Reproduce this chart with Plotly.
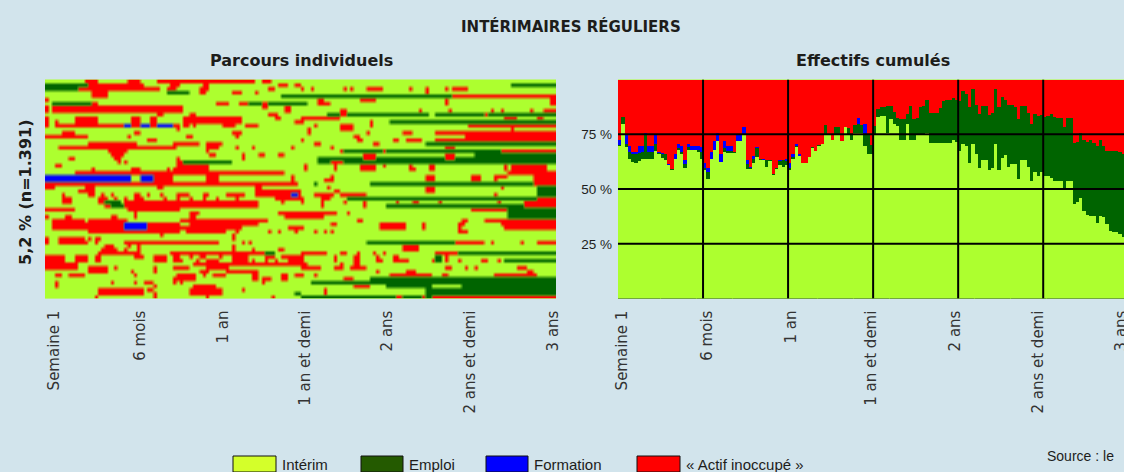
import plotly.graph_objects as go

# ---- données ------------------------------------------------------------------
tick_labels = ["Semaine 1", "6 mois", "1 an", "1 an et demi", "2 ans", "2 ans et demi", "3 ans"]
grid_weeks = [26, 52, 78, 104, 130]
grid_pct = [25, 50, 75]
states = ["Intérim", "Emploi", "Formation", "« Actif inoccupé »"]

# Parcours individuels : périodes (état + semaines début-fin) de chaque individu ; reste = intérim
parcours = [
    "R12-16 R25-29 R34-64 R66-69 F0-0",
    "E0-13 R13-30 R38-41 R48-50 R71-74 R76-78 E142-156",
    "E0-10 R10-35 R37-40 R47-50 R68-70 R78-79 R81-82 R91-92 R93-94 R98-103 R111-112 R116-117 R122-123 R124-129",
    "R14-19 E37-44 R47-49 R57-60 R64-65 R116-117",
    "R14-19 E72-124 R124-156",
    "R0-1 R83-85 R96-101 R122-123 R154-156",
    "E2-14 R14-16 R52-56 R59-62 E62-66 R66-68 E68-80 R83-87 R122-123 R154-156",
    "R0-1 R2-42 R66-68 R73-75",
    "R0-1 R2-42 R15-16 R73-75 R90-92 R114-115 R123-124 R136-137 R139-140 R148-149 R152-156",
    "R34-36 R44-46 R68-71 E86-117 E119-156 R90-92 R134-135",
    "R0-1 R9-16 R26-29 R32-34 R42-60 R70-72 R78-90 R140-144 R150-152",
    "R0-1 R3-4 R9-16 R26-29 R32-34 R42-60 R76-78 R78-79 R99-100 E105-156",
    "R0-1 R3-24 F24-39 R26-29 R32-34 R39-41 R42-44 R45-46 R54-58 R61-65 R82-83 R90-94 R99-100 R129-156",
    "R40-41 R80-81 R90-94 R142-143",
    "R5-9 R27-29 R57-60 R80-81 R98-99 R109-112 R119-128 R128-156",
    "R0-13 R5-9 R25-26 R43-45 R58-59 R94-96 R128-156",
    "R31-34 R78-79 R95-97 R106-108 R110-115 R119-132 R128-156",
    "R13-28 R39-47 R49-54 R82-84 R100-102 E116-156",
    "R4-40 R12-16 R18-26 R49-53 R58-59 R63-64 R75-76 R87-88 R122-125",
    "R19-25 R49-50 R90-92 E91-140 R139-156 R103-104",
    "R20-24 R50-52 R60-61 R65-67 R71-73 R97-101 R122-125 E131-156",
    "R7-9 R21-23 R40-41 R60-61 E83-131 R97-101 R122-125 E131-156",
    "R22-23 R24-25 R40-42 E42-57 E83-156 R87-91",
    "R3-5 R40-50 R79-80 R88-89 R96-101 R103-104 R111-112 R117-119 R140-141 R142-153",
    "R14-15 R26-29 R37-38 R39-50 R79-80 R88-89 R96-101 R111-113 R117-119 R140-141 R142-153",
    "R9-70 R39-50 R70-73 R141-156",
    "F0-26 F29-33 R33-39 R49-53 R75-76 R87-88 R116-119 R130-133 R137-138 R138-141 R149-156",
    "F0-26 F29-33 R33-39 R49-53 R75-76 R85-88 R116-119 R130-133 R137-138 R149-156",
    "R0-77 E82-83 E99-149 R149-156",
    "R0-3 R12-15 R34-36 R64-66 R86-87 R116-119 R139-140 E150-156",
    "R10-15 R64-78 R88-90 R116-119 E150-156",
    "R5-6 R13-15 R17-18 R20-21 R27-29 R31-32 R35-36 R40-44 R48-50 R55-61 R64-78 F75-77 R82-88 R90-98 R137-138 E150-156",
    "R5-8 R16-19 R21-22 R24-25 R27-30 R36-37 R40-41 R44-45 R48-49 R52-53 R58-59 R70-79 R84-87 E92-150 R150-156",
    "R5-8 R16-18 E18-23 R24-65 R72-73 R78-79 R84-85 R91-92 R97-98 R107-108 R112-114 R120-121 R138-139 R146-156",
    "R18-25 E20-24 R25-65 R84-85 R97-98 E104-146 R146-156",
    "R0-9 R25-41 R130-141 E141-156",
    "R27-28 R44-47 R71-89 R92-93 E141-156",
    "R0-1 R6-8 R20-22 R27-28 R44-46 R73-85 E141-156",
    "R2-12 R13-25 R41-68 R95-97 R127-129 R134-140 R140-156",
    "R2-24 F24-31 R31-41 R44-65 R87-89 R102-110 R115-116 R126-128 R139-156",
    "R2-24 F24-31 R31-41 R41-60 R74-79 R102-110 R115-116 R126-127 R140-156",
    "R13-41 R43-55 R58-59 R68-69 R71-72 R76-77 R82-83 R85-86 R87-88 R126-129",
    "R35-36 R57-58",
    "R0-1 R4-12 R13-14 R15-17 R57-58",
    "R0-1 R4-13 R15-16 R24-53 R60-61 R62-63 E98-125 R125-134 R136-137 R145-146 R150-156",
    "R18-21 R25-26 R28-29 R57-58 R109-114",
    "R17-22 R24-25 R28-29 R57-58 R63-64 R71-73 R109-114",
    "R16-29 R38-70 E67-70 R78-86 R90-92 R95-96 R100-101 R103-104 R119-126 E126-156",
    "R0-6 R9-13 R15-17 R27-30 R33-37 R39-41 R44-45 R47-49 R53-54 R57-62 R67-70 R72-79 R88-89 R94-96 R101-102 R106-108 E119-121 R122-123",
    "R0-6 R9-13 R15-17 R33-37 R39-42 R46-47 R49-53 R57-62 R63-64 R67-68 R70-71 R74-79 R88-89 R94-96 R101-103 R106-111 R118-119 E119-121 R122-123 R126-127 R133-135 R138-139 E140-156",
    "R0-10 R45-80 R90-91 R94-96",
    "R0-10 R13-19 R21-22 R33-34 R39-44 R49-56 R78-84 R88-91 R93-98 R122-124 R128-129 R131-132 R144-147",
    "R13-19 R26-27 R33-34 R47-50 R55-65 R101-102 R110-113 R147-149",
    "R3-5 R7-12 R27-28 R40-46 R48-49 R51-55 R63-65 R72-74 R76-79 R82-83 R105-118 R121-123 R137-150",
    "R39-46 R63-65 R66-69 R72-74 R91-94 E99-156",
    "R3-4 R20-21 R27-28 R30-33 R39-40 R41-42 R66-67 E81-99 E99-156",
    "R3-4 R33-34 R45-52 R94-99 E104-118 E127-156",
    "R16-30 R31-33 R44-54 R60-61 R85-86 E116-156",
    "R16-30 R33-34 R44-54 E76-78 R85-86 E116-156",
    "R15-16 R33-34 R49-50 R69-70 E78-119 R107-109 R115-116 R118-119 R119-156",
]

# Effectifs cumulés : hauteur cumulée de chaque état par semaine (%)
cumul_interim = [
    70, 80, 69.5, 64, 62.5, 62, 63, 64, 64, 64, 64, 67.5, 66, 64.5, 63.5, 61, 59, 64, 67.9, 66,
    60, 68, 68, 68, 67, 64, 59, 55, 64, 68, 72, 62.5, 67, 66.5, 66.5, 66.5, 72, 72, 75.5, 59.5,
    59.5, 62, 65, 63.5, 63.5, 60.5, 63, 56.5, 59.5, 61, 60.5, 61, 59, 64, 69.5, 65.5, 62, 62, 64.8, 69,
    67.5, 70, 71, 75.4, 75.4, 72.4, 74.7, 75, 72, 78.5, 74.7, 72.5, 75.9, 75.9, 76, 70, 66.3, 66.3, 74.7, 83,
    83.5, 83.5, 76, 82, 80, 79.2, 72.8, 72.8, 80, 72.8, 72.8, 75.4, 75.4, 75.4, 75.9, 71.3, 71.3, 71.3, 71.3, 71.3,
    71.3, 71.3, 72.4, 71.6, 67.8, 70.9, 70.1, 62.2, 70.9, 66.3, 59.9, 63.7, 63.7, 58.7, 59.8, 70.9, 58.7, 64.3, 65.8, 60.2,
    61.7, 61.7, 54.9, 63.7, 63.7, 60.2, 53.7, 58.2, 56.4, 58.2, 56.4, 56.4, 55.2, 54.1, 53.7, 53.7, 49.6, 53.7, 53.7, 43.5,
    44.2, 46, 40.4, 38.4, 37.8, 37.8, 34.8, 38.1, 37.4, 34.3, 31.3, 30.8, 30.5, 29.5, 28.2,
]
cumul_emploi = [
    70.5, 83, 71, 67, 66, 66, 66.5, 67, 75.5, 67, 67, 71, 66.5, 66, 66, 61, 59.5, 64, 69, 67,
    61.8, 69.5, 68, 68, 68, 67, 60, 58, 64, 68, 72, 62.5, 69, 67.5, 67.5, 67, 72, 72, 75.5, 61.5,
    60, 64, 69, 64, 63.5, 63.5, 63.5, 57, 60, 63, 63.5, 63, 60, 65, 70, 65.5, 62, 62, 64.8, 69.3,
    67.8, 70.4, 71, 79.5, 75.4, 72.4, 78.5, 78.5, 72, 78.5, 78, 75, 79.5, 80, 79.5, 74.7, 74.7, 70.4, 79.2, 86.8,
    87.6, 87.6, 88, 88, 85.3, 82.6, 82.3, 82.3, 84.6, 88, 82.3, 82.6, 87.6, 88, 91, 85, 85, 85, 87, 90.6,
    91, 91, 92, 91, 90.6, 95.2, 93.7, 87.6, 95.7, 88.4, 84.6, 88, 88, 83.8, 85, 95.7, 87.6, 92.2, 91.1, 88.4,
    88.7, 87.6, 82.3, 88, 88, 85, 80, 84.6, 83.5, 83.8, 83, 83.5, 84.6, 83, 82.6, 82.6, 78.5, 82.6, 82.6, 71.3,
    71.9, 75.9, 72.4, 71.6, 72.4, 71.3, 69.8, 72.4, 70.1, 67.4, 67.4, 67.4, 67.4, 67, 66.3,
]
cumul_formation = [
    72.4, 83, 74.7, 69.7, 67.1, 67.1, 69.7, 69.7, 75.8, 69.7, 69.7, 74.7, 67.1, 66.8, 66.4, 61.8, 59.5, 66.4, 70.9, 70,
    63.6, 71, 70, 70, 70, 69.5, 62, 60, 67, 72, 75.8, 66.4, 72, 70, 70, 67, 74.7, 74.7, 78.5, 63.5,
    60.5, 65.5, 69.5, 64, 64, 63.5, 63.5, 57, 60, 63.5, 63.5, 64, 62, 66, 71, 66, 62, 62, 64.8, 69.3,
    67.8, 70.4, 71, 79.5, 75.4, 72.4, 78.5, 78.5, 72, 78.5, 78, 75, 79.5, 82.6, 79.5, 80, 74.7, 70.4, 79.2, 86.8,
    87.6, 87.6, 88, 88, 85.3, 82.6, 82.3, 82.3, 84.6, 88, 82.3, 82.6, 87.6, 88, 91, 85, 85, 85, 87, 90.6,
    91, 91, 92, 91, 90.6, 95.2, 93.7, 87.6, 95.7, 88.4, 84.6, 88, 88, 83.8, 85, 95.7, 87.6, 92.2, 91.1, 88.4,
    88.7, 87.6, 82.3, 88, 88, 85, 80, 84.6, 83.5, 83.8, 83, 83.5, 84.6, 83, 82.6, 82.6, 78.5, 82.6, 82.6, 71.3,
    71.9, 75.9, 72.4, 71.6, 72.4, 71.3, 69.8, 72.4, 70.1, 67.4, 67.4, 67.4, 67.4, 67, 66.3,
]
cumul_inoccupe = [100] * len(cumul_interim)

# ---- styles ------------------------------------------------------------------
W, H = 1124, 472
BG = "#d2e4ec"
INK = "#1d1d1b"
SANS = "Liberation Sans, Arial, sans-serif"
WIDE = "DejaVu Sans, sans-serif"
C_INT, C_EMP, C_FOR, C_INA = "#adff2f", "#006400", "#0000ff", "#ff0000"
LEG_COLORS = ["#d4ff2a", "#245a00", "#0000ff", "#ff0000"]

def px(x): return x / W
def py(y): return 1 - y / H

# ---- matrice des parcours ----------------------------------------------------
codes = []
for row in parcours:
    line = ["I"] * 156
    for item in row.split():
        a, b = item[1:].split("-")
        for w in range(int(a), int(b)):
            line[w] = item[0]
    codes.append(line)

fig = go.Figure()
# une couche lissée par état (fond = intérim) : reproduit le flou de l'image d'origine
for code, col_rgb in [("R", "255,0,0"), ("E", "0,100,0"), ("F", "0,0,255")]:
    fig.add_trace(go.Heatmap(
        z=[[1 if c == code else 0 for c in line] for line in codes],
        x=list(range(156)), y=list(range(len(codes))), xaxis="x", yaxis="y",
        zmin=0, zmax=1, showscale=False, hoverinfo="skip", zsmooth="best",
        colorscale=[[0, f"rgba({col_rgb},0)"], [1, f"rgba({col_rgb},1)"]],
    ))

weeks = list(range(len(cumul_interim)))
for name, vals, col in [
    (states[3], cumul_inoccupe, C_INA),
    (states[2], cumul_formation, C_FOR),
    (states[1], cumul_emploi, C_EMP),
    (states[0], cumul_interim, C_INT),
]:
    fig.add_trace(go.Bar(x=[w + 0.5 for w in weeks], y=vals, name=name, width=1.02, xaxis="x2", yaxis="y2",
                         marker=dict(color=col, line=dict(width=0)), showlegend=False))

shapes = []
for w in grid_weeks:
    shapes.append(dict(type="line", xref="x2", yref="y2", x0=w, x1=w, y0=0, y1=100,
                       line=dict(color="black", width=2), layer="above"))
for p in grid_pct:
    shapes.append(dict(type="line", xref="x2", yref="y2", x0=0, x1=160, y0=p, y1=p,
                       line=dict(color="black", width=2), layer="above"))

# légende dessinée
annots = []
leg_x = [(233, 276), (361, 403), (486, 528), (637, 680)]
for (x0, x1), col, lab in zip(leg_x, LEG_COLORS, states):
    shapes.append(dict(type="rect", xref="paper", yref="paper", x0=px(x0), x1=px(x1), y0=py(472), y1=py(456),
                       fillcolor=col, line=dict(color="#111", width=1)))
    annots.append(dict(text=lab, x=px(x1 + 4), y=py(464), xref="paper", yref="paper", xanchor="left", yanchor="middle",
                       showarrow=False, font=dict(family=SANS, size=15, color=INK)))

for txt, x, y, size in [("INTÉRIMAIRES RÉGULIERS", 571, 27, 15),
                        ("Parcours individuels", 301, 61, 16),
                        ("Effectifs cumulés", 873, 60, 16)]:
    annots.append(dict(text=f"<b>{txt}</b>", x=px(x), y=py(y), xref="paper", yref="paper", showarrow=False,
                       xanchor="center", yanchor="middle", font=dict(family=WIDE, size=size, color=INK)))
annots.append(dict(text="<b>5,2 % (n=1.391)</b>", x=px(25), y=py(192), xref="paper", yref="paper", textangle=-90,
                   xanchor="center", yanchor="middle", showarrow=False, font=dict(family=WIDE, size=16, color=INK)))
annots.append(dict(text="Source : le", x=px(1045), y=py(456), xref="paper", yref="paper", xanchor="left",
                   yanchor="middle", showarrow=False, font=dict(family=SANS, size=14, color=INK)))

tickfont = dict(family=WIDE, size=15, color="#333333")
fig.update_layout(
    width=W, height=H, margin=dict(l=0, r=0, t=0, b=0), autosize=False,
    paper_bgcolor=BG, plot_bgcolor=C_INT, barmode="overlay", bargap=0,
    shapes=shapes, annotations=annots,
    xaxis=dict(domain=[px(45), px(556)], range=[-0.5, 155.5], tickmode="array",
               tickvals=[2.25, 28.5, 53.8, 78.9, 103.9, 129.2, 154.6],
               ticktext=tick_labels, tickangle=-90, ticks="", showgrid=False, zeroline=False,
               tickfont=tickfont, ticklabelstandoff=8, anchor="y", automargin=False),
    yaxis=dict(domain=[py(298.6), py(79.5)], range=[len(codes) - 0.5, -0.5], showticklabels=False,
               ticks="", showgrid=False, zeroline=False, anchor="x", automargin=False),
    xaxis2=dict(domain=[px(618), 1], range=[0, 154.7], tickmode="array",
                tickvals=[1.2, 27.2, 52.9, 77.4, 103, 128.4, 153.8],
                ticktext=tick_labels, tickangle=-90, ticks="", showgrid=False, zeroline=False,
                tickfont=tickfont, ticklabelstandoff=8, ticklabeloverflow="allow",
                anchor="y2", automargin=False),
    yaxis2=dict(domain=[py(298.6), py(79.5)], range=[0, 100], tickmode="array",
                tickvals=grid_pct, ticktext=[f"{p} %" for p in grid_pct], ticks="", showgrid=False,
                zeroline=False, tickfont=dict(family=SANS, size=13.5, color=INK), ticklabelstandoff=5,
                anchor="x2", automargin=False),
)

fig.write_html("out.html", config={"displayModeBar": False},
               post_script="document.body.style.margin='0';document.documentElement.style.overflow='hidden';")
